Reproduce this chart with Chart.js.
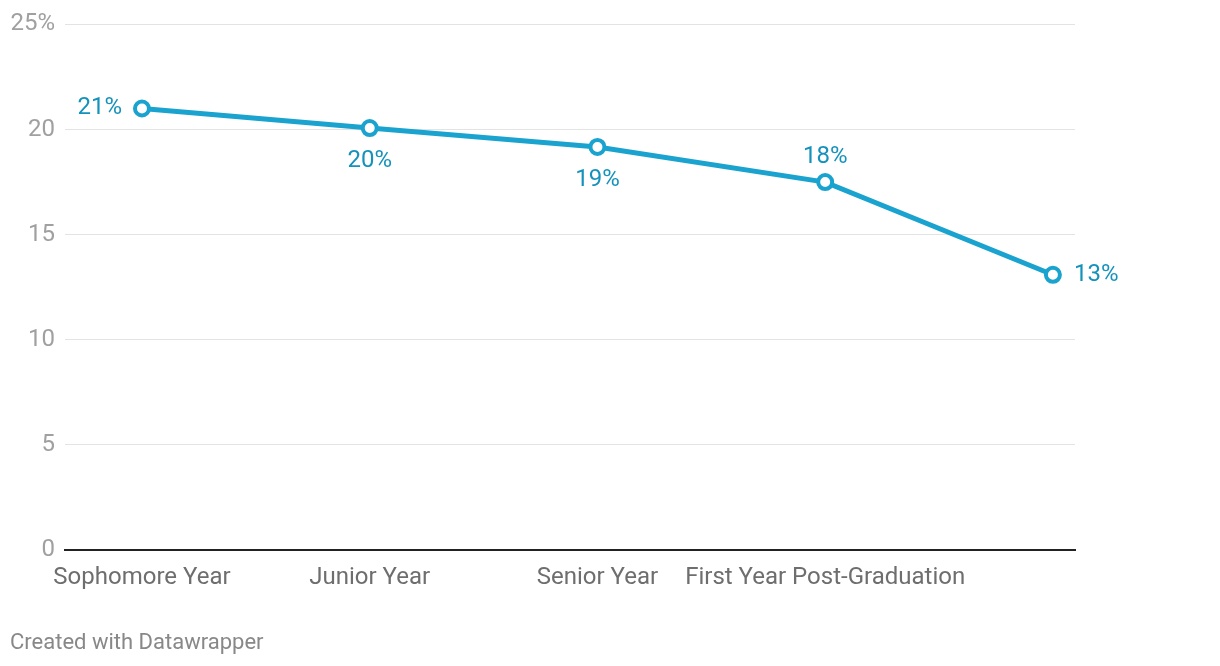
<!DOCTYPE html>
<html>
<head>
<meta charset="utf-8">
<script src="https://cdn.jsdelivr.net/npm/chart.js@4.4.1/dist/chart.umd.min.js"></script>
<style>
  html, body { margin: 0; padding: 0; background: #fff; }
  #wrap { position: relative; width: 1220px; height: 666px; }
  #footer {
    position: absolute; left: 10px; top: 629px;
    font: 22px Roboto, sans-serif; color: #888;
  }
</style>
</head>
<body>
<div id="wrap">
  <canvas id="chart" width="1220" height="666"></canvas>
  <div id="footer">Created with Datawrapper</div>
</div>
<script>
/* ---------- data ---------- */
const categories = ['Sophomore Year', 'Junior Year', 'Senior Year', 'First Year Post-Graduation', ''];
const shareValues = [21, 20.07, 19.17, 17.5, 13.09];
const yTicks = [0, 5, 10, 15, 20, 25];

const LINE_BLUE = '#1aa3cf';
const LABEL_BLUE = '#1592bb';

// where each value label sits relative to its point
const labelSpots = ['left', 'below', 'below', 'above', 'right'];

const valueLabels = {
  id: 'valueLabels',
  afterDatasetsDraw(chart) {
    const ctx = chart.ctx;
    const meta = chart.getDatasetMeta(0);
    ctx.save();
    ctx.font = '24px Roboto, sans-serif';
    ctx.fillStyle = LABEL_BLUE;
    meta.data.forEach((pt, i) => {
      const txt = Math.round(shareValues[i]) + '%';
      const spot = labelSpots[i];
      let x = pt.x, y = pt.y;
      ctx.textBaseline = 'middle';
      if (spot === 'left')  { ctx.textAlign = 'right';  x -= 20; }
      if (spot === 'right') { ctx.textAlign = 'left';   x += 21; }
      if (spot === 'below') { ctx.textAlign = 'center'; y += 33; }
      if (spot === 'above') { ctx.textAlign = 'center'; y -= 25; }
      ctx.fillText(txt, x, y);
    });
    ctx.restore();
  }
};

const points = shareValues.map((v, i) => ({ x: i, y: v }));

new Chart(document.getElementById('chart'), {
  type: 'line',
  data: {
    datasets: [{
      data: points,
      borderColor: LINE_BLUE,
      borderWidth: 5,
      pointRadius: 7,
      pointBorderWidth: 4,
      pointBackgroundColor: '#fff',
      pointBorderColor: LINE_BLUE,
      tension: 0
    }]
  },
  options: {
    responsive: false,
    animation: false,
    layout: { padding: { top: 12, right: 145, bottom: 0, left: 0 } },
    plugins: { legend: { display: false }, tooltip: { enabled: false } },
    scales: {
      x: {
        type: 'linear',
        min: -0.338,
        max: 4.097,
        afterFit: (s) => { s.height = 116; },
        afterBuildTicks: (s) => { s.ticks = categories.map((_, i) => ({ value: i })); },
        grid: { display: false, drawTicks: false },
        border: { display: true, color: '#222', width: 2 },
        ticks: {
          padding: 14,
          color: '#6e6e6e',
          font: { family: 'Roboto', size: 24 },
          maxRotation: 0,
          autoSkip: false,
          callback: (v) => categories[v] ?? ''
        }
      },
      y: {
        min: 0,
        max: 25,
        afterFit: (s) => { s.width = 65; },
        afterBuildTicks: (s) => { s.ticks = yTicks.map(v => ({ value: v })); },
        grid: { color: '#e3e3e3', lineWidth: 1, drawTicks: false },
        border: { display: false },
        ticks: {
          padding: 10,
          color: '#a0a0a0',
          font: { family: 'Roboto', size: 24 },
          callback: (v) => v === 25 ? '25%' : String(v)
        }
      }
    }
  },
  plugins: [valueLabels]
});
</script>
</body>
</html>
